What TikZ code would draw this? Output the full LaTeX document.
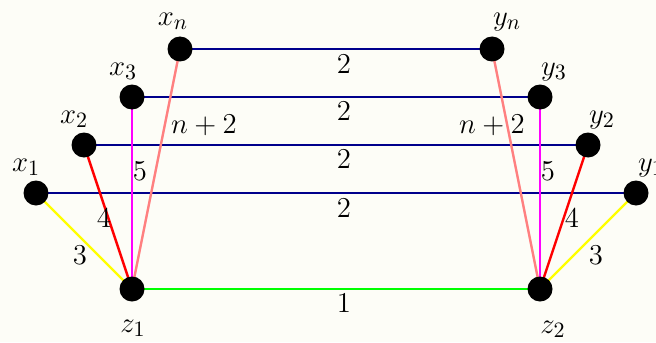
\documentclass[tikz,border=0pt]{standalone}
\begin{document}
\begin{tikzpicture}[x=0.5pt,y=-0.5pt,
  dot/.style={circle,fill=black,inner sep=0pt,minimum size=12.5pt},
  txt/.style={inner sep=0pt,font=\fontsize{15.5}{18}\selectfont},
  edge/.style={line width=1.2pt}]
\definecolor{bg}{RGB}{253,253,247}
\definecolor{navy}{RGB}{0,0,140}
\definecolor{salmonc}{RGB}{255,128,128}
\definecolor{grn}{RGB}{0,255,0}
\definecolor{yel}{RGB}{255,255,0}
\definecolor{mag}{RGB}{255,0,255}
\fill[bg] (0,0) rectangle (656,342);
\useasboundingbox (0,0) rectangle (656,342);
% vertices
\coordinate (pxn) at (180,49);
\coordinate (pyn) at (492,49);
\coordinate (px3) at (132,97);
\coordinate (py3) at (540,97);
\coordinate (px2) at (84,145);
\coordinate (py2) at (588,145);
\coordinate (px1) at (36,193);
\coordinate (py1) at (636,193);
\coordinate (pz1) at (132,289);
\coordinate (pz2) at (540,289);
% edges
\draw[edge,navy] (pxn) -- (pyn);
\draw[edge,navy] (px3) -- (py3);
\draw[edge,navy] (px2) -- (py2);
\draw[edge,navy] (px1) -- (py1);
\draw[edge,grn] (pz1) -- (pz2);
\draw[edge,yel] (px1) -- (pz1);
\draw[edge,yel] (py1) -- (pz2);
\draw[edge,red] (px2) -- (pz1);
\draw[edge,red] (py2) -- (pz2);
\draw[edge,mag] (px3) -- (pz1);
\draw[edge,mag] (py3) -- (pz2);
\draw[edge,salmonc] (pxn) -- (pz1);
\draw[edge,salmonc] (pyn) -- (pz2);
% dots
\node[dot] (xn) at (pxn) {};
\node[dot] (yn) at (pyn) {};
\node[dot] (x3) at (px3) {};
\node[dot] (y3) at (py3) {};
\node[dot] (x2) at (px2) {};
\node[dot] (y2) at (py2) {};
\node[dot] (x1) at (px1) {};
\node[dot] (y1) at (py1) {};
\node[dot] (z1) at (pz1) {};
\node[dot] (z2) at (pz2) {};
% vertex labels
\node[txt] (lxn) at (173,21) {$x_n$};
\node[txt] (lyn) at (507,22) {$y_n$};
\node[txt] (lx3) at (123,71) {$x_3$};
\node[txt] (ly3) at (554,72) {$y_3$};
\node[txt] (lx2) at (74,119) {$x_2$};
\node[txt] (ly2) at (602,120) {$y_2$};
\node[txt] (lx1) at (26,167) {$x_1$};
\node[txt] (ly1) at (651,168) {$y_1$};
\node[txt] (lz1) at (133,328) {$z_1$};
\node[txt] (lz2) at (553,329) {$z_2$};
% edge labels
\node[txt] (w1) at (344,64) {$2$};
\node[txt] (w2) at (344,111) {$2$};
\node[txt] (w3) at (344,159) {$2$};
\node[txt] (w4) at (344,208) {$2$};
\node[txt] (w5) at (344,303) {$1$};
\node[txt] (w6) at (204,125) {$n+2$};
\node[txt] (w7) at (492,125) {$n+2$};
\node[txt] (w8) at (140,171) {$5$};
\node[txt] (w9) at (548,171) {$5$};
\node[txt] (w10) at (104,218) {$4$};
\node[txt] (w11) at (572,218) {$4$};
\node[txt] (w12) at (80,255) {$3$};
\node[txt] (w13) at (596,255) {$3$};
\end{tikzpicture}
\end{document}
